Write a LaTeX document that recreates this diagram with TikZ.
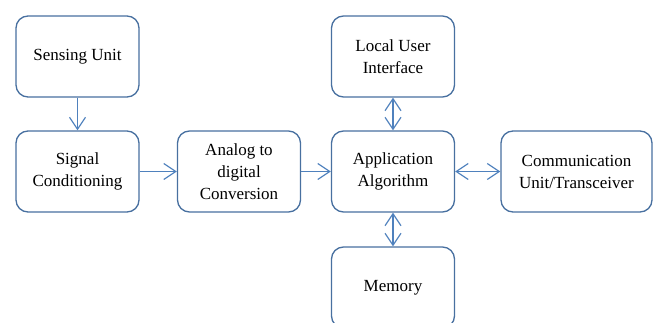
\documentclass[tikz,border=0pt]{standalone}
\usepackage{fontspec}
\setmainfont{Liberation Serif}
\usetikzlibrary{arrows.meta}
\definecolor{boxline}{RGB}{72,112,160}
\definecolor{linkline}{RGB}{79,129,189}
\begin{document}
\begin{tikzpicture}[x=1pt,y=-1pt,
  block/.style={draw=boxline, line width=1.3pt, rounded corners=12pt, fill=white,
    minimum width=123pt, minimum height=81pt, align=center, inner sep=2pt,
    font=\fontsize{17}{22}\selectfont},
  link/.style={draw=linkline, line width=1.2pt,
    -{Straight Barb[length=12pt,width=16pt]}},
  dlink/.style={draw=linkline, line width=1.2pt,
    {Straight Barb[length=12pt,width=16pt]}-{Straight Barb[length=12pt,width=16pt]}}]
\useasboundingbox (0,0) rectangle (657,323);
\begin{scope}
\clip (0,0) rectangle (657,323);
\node[block] (sense) at (77.5,56.5) {Sensing Unit};
\node[block] (cond) at (77.5,171.5) {Signal\\Conditioning};
\node[block] (adc) at (239,171.5) {Analog to\\digital\\Conversion};
\node[block] (app) at (393,171.5) {Application\\Algorithm};
\node[block] (ui) at (393,56.5) {Local User\\Interface};
\node[block] (mem) at (393,287.5) {Memory};
\node[block, minimum width=151pt] (comm) at (576.5,171.5) {Communication\\Unit/Transceiver};
\draw[link] (sense) -- (cond);
\draw[link] (cond) -- (adc);
\draw[link] (adc) -- (app);
\draw[dlink] (ui) -- (app);
\draw[dlink] (app) -- (mem);
\draw[dlink] (app) -- (comm);
\end{scope}
\end{tikzpicture}
\end{document}
